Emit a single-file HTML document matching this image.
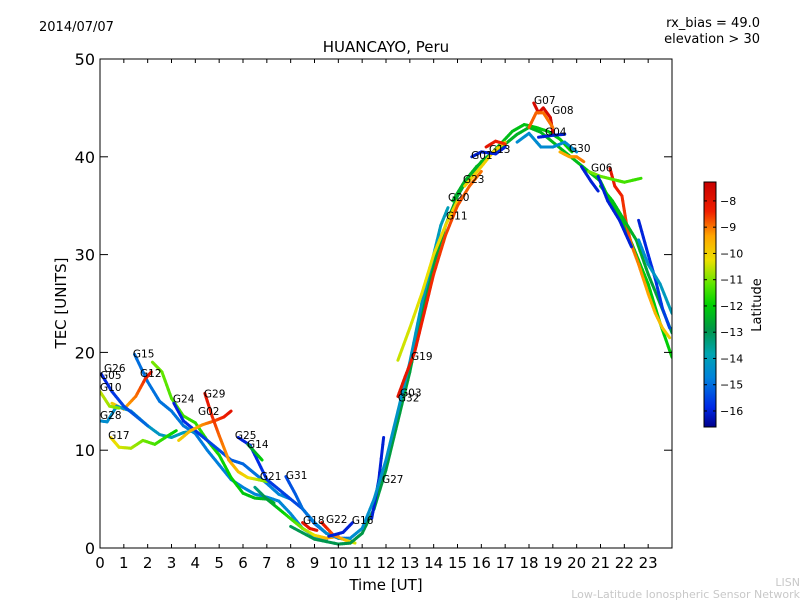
<!DOCTYPE html>
<html><head><meta charset="utf-8"><style>
body{margin:0;background:#fff;font-family:"Liberation Sans","DejaVu Sans",sans-serif}
svg text{font-family:"DejaVu Sans","Liberation Sans",sans-serif}
</style></head><body>
<svg id="c" width="800" height="600" xmlns="http://www.w3.org/2000/svg">
<rect width="800" height="600" fill="#fff"/>
<text x="39" y="31" font-size="13">2014/07/07</text>
<text x="760" y="27" font-size="13" text-anchor="end">rx_bias = 49.0</text>
<text x="760" y="43" font-size="13" text-anchor="end">elevation &gt; 30</text>
<text x="386" y="52" font-size="15" text-anchor="middle">HUANCAYO, Peru</text>
<g id="plot"></g>
<g id="axes"></g>
<text x="386" y="590" font-size="15" text-anchor="middle">Time [UT]</text>
<text transform="translate(66,303) rotate(-90)" font-size="15" text-anchor="middle">TEC [UNITS]</text>
<g id="cbar"></g>
<text transform="translate(761,305) rotate(-90)" font-size="13" text-anchor="middle">Latitude</text>
<text x="800" y="586" font-size="11" fill="#c8c8c8" text-anchor="end">LISN</text>
<text x="800" y="598" font-size="11" fill="#c8c8c8" text-anchor="end">Low-Latitude Ionospheric Sensor Network</text>
</svg>
<script>
const trackNames=["G15","G12a","G12b","G28","G17","G24","G02","G29","G25","G14","G21","G31","G18","G22","G16","Gvalley","G27","G11","G19","G03","G20","G23","G01","G13","G07","G08","G04","Gteal","G30y","G30","G06a","G06b","G06c","Gblue1","Gblue2","Gteal2","G26","G10"];
const trackLat=[[-15,-14.5],[-10,-8],[-11,-12.5],[-14.5,-14],[-10,-12],[-16,-14.5],[-10,-8],[-8,-11],[-16,-15],[-13,-12],[-13.5,-9],[-15.5,-14],[-8,-8],[-8,-10.5],[-16,-16],[-13,-12],[-16,-16],[-14.5,-14],[-10.5,-10],[-8,-9],[-12.5,-12],[-10,-10],[-16,-16],[-8,-8.5],[-7.7,-7.7],[-8.8,-9],[-16,-16],[-14.5,-14.5],[-9.5,-9],[-16,-16],[-8,-10],[-11,-11.5],[-12,-13],[-16,-16],[-16,-15.5],[-14.5,-14],[-16,-15],[-10.5,-11]];
const trackPts=[
[[1.45,19.8],[2,17],[2.5,15],[3,14],[3.5,12.5],[4,11.7],[4.5,10],[5,8.5],[5.5,7],[6,6.2],[6.5,5.5],[7,5.2],[7.5,4.8],[8,3.5],[8.5,2],[9,1.2],[9.5,0.8]],
[[0.5,14.8],[1,14.2],[1.5,15.5],[1.9,17.3],[2.15,18]],
[[2.2,19],[2.6,18],[3,15.3],[3.5,13.5],[4,12.8],[4.5,11],[5,9.5],[5.5,7.2],[6,5.6],[6.5,5.1],[7,5],[7.3,4.6]],
[[0,13],[0.3,12.9],[0.7,14.5],[1.3,14],[2,12.5],[2.5,11.6],[3,11.3],[3.5,11.8],[4,12]],
[[0.45,11.3],[0.8,10.3],[1.3,10.2],[1.8,11],[2.3,10.6],[2.8,11.4],[3.2,12]],
[[3.1,14.8],[3.5,13],[4,12],[4.5,11],[5,10],[5.5,9],[6,8.6],[6.5,7.6],[7,6.6],[7.5,5.5],[8,5]],
[[3.3,11],[3.8,12],[4.3,12.6],[4.8,13],[5.2,13.4],[5.5,14]],
[[4.4,15.8],[4.7,13.5],[5,11.5],[5.4,9],[5.8,7.8],[6.2,7.2],[6.6,7],[7,6.8]],
[[5.8,11.3],[6.3,10.5],[6.7,8.5],[7,7],[7.5,6],[8,5],[8.5,4],[9,2.5],[9.5,1.5],[10,1],[10.5,1]],
[[6.2,10.6],[6.5,9.8],[6.8,9]],
[[6.5,6.2],[7,5],[7.5,4],[8,3],[8.5,2],[9,1.3],[9.5,1],[10,1.2]],
[[7.8,7.3],[8.2,5.5],[8.5,4],[9,2.6],[9.5,1.5],[10,1],[10.5,0.8]],
[[8.5,2.6],[8.8,2],[9.1,1.8]],
[[9.3,2.6],[9.8,1.3],[10.3,0.8],[10.7,0.5]],
[[9.6,1.2],[10.2,1.6],[10.6,2.6]],
[[8,2.2],[9,0.9],[10,0.4],[10.5,0.5],[11,1.5],[11.5,4],[12,8],[12.5,13],[13,18],[13.5,24],[14,29],[14.5,33],[15,36],[15.5,38],[16,39.5],[16.5,40.5],[17,41.3],[17.5,42.3],[18,43],[18.5,42.5],[19,41.5],[19.5,40.5],[20,39.5],[20.5,38.5],[21,37.5],[21.5,35],[22,33],[22.5,30],[23,27],[23.5,23],[24,19.5]],
[[11.4,3],[11.7,7],[11.9,11.3]],
[[10.5,1],[11,2],[11.5,5],[12,9],[12.5,14],[13,19],[13.5,25],[14,30],[14.3,33],[14.6,34.8]],
[[12.5,19.2],[13,22.5],[13.5,26],[14,30],[14.5,33],[15,35.5]],
[[12.5,15.5],[12.8,17.5],[13.2,20],[13.6,24],[14,28],[14.5,32],[15,35],[15.5,37],[16,38.5]],
[[14.8,35.5],[15.3,37.5],[15.8,39],[16.3,40],[16.8,41.3],[17.3,42.6],[17.8,43.3],[18.3,43],[18.8,42.6],[19.3,41.8],[19.8,40.5]],
[[15.3,37],[16,39],[16.5,40.5],[17,41.5]],
[[15.6,40],[16,40.5],[16.6,40.3],[17,41]],
[[16.2,41],[16.6,41.6],[17,41.3]],
[[18.2,45.5],[18.4,44.5],[18.6,45],[18.9,44],[19,42.5]],
[[18,43],[18.3,44.5],[18.6,44.5],[19,43]],
[[18.4,42],[19,42.2],[19.5,42.3]],
[[17.5,41.5],[18,42.4],[18.5,41],[19,41],[19.5,41.5],[20,40.5]],
[[19.3,40.5],[19.7,40],[20,40],[20.3,39.5]],
[[20.2,39],[20.6,37.5],[20.9,36.5]],
[[21.4,38.8],[21.6,37],[21.9,36],[22.1,33],[22.3,31],[22.6,29],[23,26],[23.3,24],[23.6,22.5],[23.9,21.5]],
[[20.5,38.5],[21,38],[21.5,37.7],[22,37.4],[22.7,37.8]],
[[21,37],[21.5,35.5],[22,33.5],[22.5,31.5],[23,28],[23.5,25],[24,22]],
[[20.9,38],[21.3,35.5],[21.8,33.5],[22.3,30.8]],
[[22.6,33.5],[23,30],[23.3,27.5],[23.6,24.5],[23.9,22.5]],
[[22.6,31.5],[23,29],[23.5,27],[24,24]],
[[0.05,17.8],[0.5,16],[1,14.5],[1.5,13.5],[2,12.5]],
[[0,16],[0.4,14.5],[0.8,14.3]]
];
const labelNames=["G26","G05","G10","G28","G17","G15","G12","G24","G29","G02","G25","G14","G21","G31","G18","G22","G16","G27","G19","G03","G32","G11","G20","G23","G01","G13","G07","G08","G04","G30","G06"];
const labelHours=[0.17,0,0,0,0.34,1.38,1.68,3.06,4.36,4.11,5.66,6.17,6.71,7.8,8.52,9.48,10.57,11.83,13.05,12.59,12.5,14.52,14.6,15.23,15.57,16.32,18.21,18.97,18.67,19.68,20.6];
const labelTec=[18.0,17.3,16.05,13.2,11.15,19.5,17.5,14.9,15.4,13.6,11.15,10.2,6.95,7.05,2.45,2.55,2.45,6.65,19.2,15.5,15.0,33.6,35.5,37.3,39.8,40.4,45.4,44.4,42.2,40.5,38.5];
const xTicks=[0,1,2,3,4,5,6,7,8,9,10,11,12,13,14,15,16,17,18,19,20,21,22,23];
const yTicks=[0,10,20,30,40,50];
const cbTicks=[-8,-9,-10,-11,-12,-13,-14,-15,-16];
const X0=100,X1=672,Y0=548,Y1=59,VMIN=-16.61,VMAX=-7.28,CT=182,CB=427;
const xs=h=>X0+h*(X1-X0)/24, ys=v=>Y0-v*(Y0-Y1)/50;
const NS="http://www.w3.org/2000/svg";
function mk(t,a,p){const e=document.createElementNS(NS,t);for(const k in a)e.setAttribute(k,a[k]);p.appendChild(e);return e;}
const CS=[[0,0,0,140],[0.08,0,40,230],[0.2,0,130,220],[0.3,0,165,175],[0.4,0,150,70],[0.5,0,210,0],[0.58,90,230,0],[0.68,235,225,0],[0.78,255,165,0],[0.88,240,30,0],[1,200,0,0]];
function cmap(t){t=Math.max(0,Math.min(1,t));
 for(let i=0;i<CS.length-1;i++){const a=CS[i],b=CS[i+1];if(t<=b[0]){const f=(t-a[0])/(b[0]-a[0]);
  return `rgb(${Math.round(a[1]+(b[1]-a[1])*f)},${Math.round(a[2]+(b[2]-a[2])*f)},${Math.round(a[3]+(b[3]-a[3])*f)})`;}}
 return 'rgb(200,0,0)';}
const col=l=>cmap((l-VMIN)/(VMAX-VMIN));
const plot=document.getElementById('plot');
const cp=mk('clipPath',{id:'cp'},plot);
mk('rect',{x:X0,y:Y1,width:X1-X0,height:Y0-Y1},cp);
const tg=mk('g',{'clip-path':'url(#cp)'},plot);
trackPts.forEach((pts,i)=>{
 const g=mk('g',{},tg);
 
 
 const [la,lb]=trackLat[i];
 for(let j=0;j<pts.length-1;j++){
  const n=6;
  for(let k=0;k<n;k++){
   const t0=k/n,t1=(k+1)/n;
   const p=pts[j],q=pts[j+1];
   const fr=(j+(t0+t1)/2)/(pts.length-1);
   const s=mk('line',{x1:xs(p[0]+(q[0]-p[0])*t0),y1:ys(p[1]+(q[1]-p[1])*t0),x2:xs(p[0]+(q[0]-p[0])*t1),y2:ys(p[1]+(q[1]-p[1])*t1),stroke:col(la+(lb-la)*fr),'stroke-width':3,'stroke-linecap':'round'},g);
   
   
  }
 }
});
labelNames.forEach((n,i)=>{
 const t=mk('text',{x:xs(labelHours[i]),y:ys(labelTec[i]),'font-size':10.5},plot);
 t.textContent=n;
 
 
});
const ax=document.getElementById('axes');
const fr=mk('rect',{x:X0,y:Y1,width:X1-X0,height:Y0-Y1,fill:'none',stroke:'#000','stroke-width':1},ax);


xTicks.forEach(h=>{
 const x=xs(h);
 mk('line',{x1:x,y1:Y0,x2:x,y2:Y0-4,stroke:'#000'},ax);
 mk('line',{x1:x,y1:Y1,x2:x,y2:Y1+4,stroke:'#000'},ax);
 const t=mk('text',{x:x,y:Y0+20,'font-size':15,'text-anchor':'middle'},ax);t.textContent=h;
 
 
});
yTicks.forEach(v=>{
 const y=ys(v);
 mk('line',{x1:X0,y1:y,x2:X0+8,y2:y,stroke:'#000'},ax);
 mk('line',{x1:X1,y1:y,x2:X1-8,y2:y,stroke:'#000'},ax);
 const t=mk('text',{x:X0-5,y:y+6,'font-size':16,'text-anchor':'end'},ax);t.textContent=v;
 
 
});
const cb=document.getElementById('cbar');
const cys=l=>CT+(VMAX-l)*(CB-CT)/(VMAX-VMIN);
for(let y=CT;y<CB;y++){mk('rect',{x:704,y:y,width:12,height:1.2,fill:col(VMAX-(y-CT+0.5)*(VMAX-VMIN)/(CB-CT))},cb);}
mk('rect',{x:704,y:CT,width:12,height:CB-CT,fill:'none',stroke:'#000'},cb);
cbTicks.forEach(l=>{
 const y=cys(l);
 mk('line',{x1:704,y1:y,x2:707,y2:y,stroke:'#000'},cb);
 mk('line',{x1:716,y1:y,x2:713,y2:y,stroke:'#000'},cb);
 const t=mk('text',{x:720,y:y+4,'font-size':11},cb);t.textContent='\u2212'+Math.abs(l);
 
 
});
</script>
</body></html>
